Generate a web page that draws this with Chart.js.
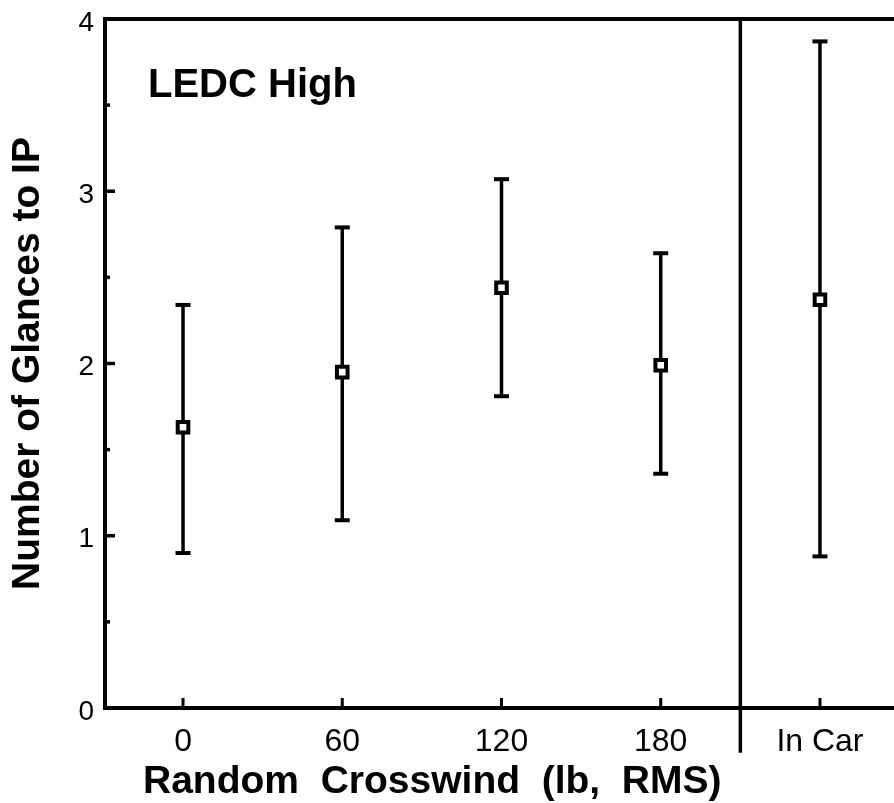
<!DOCTYPE html>
<html>
<head>
<meta charset="utf-8">
<script src="https://cdn.jsdelivr.net/npm/chart.js@4"></script>
<style>
html,body{margin:0;padding:0;background:#fff;overflow:hidden}
#wrap{width:894px;height:803px}
</style>
</head>
<body>
<div id="wrap"><canvas id="c" width="894" height="803"></canvas></div>
<script>
// ---- data ----
const categories = ['0', '60', '120', '180', 'In Car'];
const meanGlances  = [1.63, 1.95, 2.44, 1.99, 2.37];
const upperGlances = [2.34, 2.79, 3.07, 2.64, 3.87];
const lowerGlances = [0.90, 1.09, 1.81, 1.36, 0.88];
const yMajorTicks = [0, 1, 2, 3, 4];
const yMinorTicks = [0.5, 1.5, 2.5, 3.5];
const panelLabel = 'LEDC High';
const xTitle = 'Random  Crosswind  (lb,  RMS)';
const yTitle = 'Number of Glances to IP';
const dividerAt = 3.5;           // between '180' and 'In Car'
const dividerSpan = [-0.26, 4];  // runs from below the axis up to the frame top

const FONT = '"Liberation Sans", Arial, Helvetica, sans-serif';

const errorBarData = categories.flatMap((c, i) => [
  {x: i, y: lowerGlances[i]},
  {x: i, y: upperGlances[i]},
  {x: i, y: null}
]);
const meanData = categories.map((c, i) => ({x: i, y: meanGlances[i]}));
const dividerData = dividerSpan.map(v => ({x: dividerAt, y: v}));

const decorations = {
  id: 'decorations',
  afterDraw(chart) {
    const {ctx, chartArea} = chart;
    const x = chart.scales.x, y = chart.scales.y;
    ctx.save();
    ctx.strokeStyle = '#000';
    ctx.lineCap = 'butt';
    // inward y ticks
    ctx.lineWidth = 3.5;
    yMajorTicks.concat(yMinorTicks).forEach(v => {
      const py = y.getPixelForValue(v);
      const len = yMajorTicks.includes(v) ? 10 : 5;
      ctx.beginPath();
      ctx.moveTo(chartArea.left, py);
      ctx.lineTo(chartArea.left + len, py);
      ctx.stroke();
    });
    // inward x ticks
    ctx.lineWidth = 3;
    categories.forEach((c, i) => {
      const px = x.getPixelForValue(i);
      ctx.beginPath();
      ctx.moveTo(px, chartArea.bottom);
      ctx.lineTo(px, chartArea.bottom - 10);
      ctx.stroke();
    });
    // texts
    ctx.fillStyle = '#000';
    ctx.textAlign = 'left';
    ctx.textBaseline = 'alphabetic';
    ctx.font = 'bold 40px ' + FONT;
    ctx.fillText(panelLabel, chartArea.left + 43, 97);
    ctx.font = 'bold 39px ' + FONT;
    ctx.fillText(xTitle, 143, 793);
    ctx.restore();
  }
};

const noPadX = s => { s.paddingLeft = 0; s.paddingRight = 0; };

new Chart(document.getElementById('c'), {
  type: 'scatter',
  data: {
    datasets: [
      {
        label: 'Mean',
        data: meanData,
        showLine: false,
        pointStyle: 'rect',
        pointRadius: 7.5,
        pointHoverRadius: 7.5,
        pointBorderWidth: 4,
        pointBackgroundColor: '#fff',
        pointBorderColor: '#000'
      },
      {
        label: 'Range',
        data: errorBarData,
        showLine: true,
        spanGaps: false,
        borderColor: '#000',
        borderWidth: 3.5,
        pointStyle: 'line',
        pointRadius: 7.5,
        pointHoverRadius: 7.5,
        pointBorderWidth: 4,
        pointBorderColor: '#000',
        clip: false
      },
      {
        label: 'Divider',
        data: dividerData,
        showLine: true,
        borderColor: '#000',
        borderWidth: 3.5,
        pointRadius: 0,
        clip: false
      }
    ]
  },
  options: {
    responsive: false,
    animation: false,
    devicePixelRatio: 1,
    layout: {autoPadding: false, padding: {top: 19, left: 0, right: 0, bottom: 0}},
    plugins: {legend: {display: false}, tooltip: {enabled: false}},
    scales: {
      x: {
        type: 'linear',
        position: 'bottom',
        min: -0.49,
        max: 4.465,
        afterBuildTicks: s => { s.ticks = categories.map((c, i) => ({value: i})); },
        afterFit: s => { s.height = 95; noPadX(s); },
        grid: {display: false, drawTicks: false, tickLength: 0},
        border: {display: true, color: '#000', width: 4},
        ticks: {
          autoSkip: false,
          maxRotation: 0,
          padding: 15,
          color: '#000',
          font: {family: FONT, size: 32},
          callback: v => categories[v]
        }
      },
      xTop: {
        type: 'linear',
        position: 'top',
        min: -0.49,
        max: 4.465,
        afterFit: s => { s.height = 0; noPadX(s); },
        grid: {display: false, drawTicks: false, tickLength: 0},
        border: {display: true, color: '#000', width: 4},
        ticks: {display: false}
      },
      y: {
        type: 'linear',
        min: 0,
        max: 4,
        afterBuildTicks: s => {
          s.ticks = yMajorTicks.concat(yMinorTicks).sort((a, b) => a - b).map(v => ({value: v}));
        },
        afterFit: s => { s.width = 105; s.paddingTop = 0; s.paddingBottom = 0; },
        grid: {display: false, drawTicks: false, tickLength: 0},
        border: {display: true, color: '#000', width: 4},
        ticks: {
          padding: 11,
          labelOffset: 4,
          color: '#000',
          font: {family: FONT, size: 28},
          callback: v => yMajorTicks.includes(v) ? String(v) : ''
        },
        title: {
          display: true,
          text: yTitle,
          color: '#000',
          font: {family: FONT, size: 39, weight: 'bold'},
          padding: {top: 5, bottom: 0}
        }
      }
    }
  },
  plugins: [decorations]
});
</script>
</body>
</html>
